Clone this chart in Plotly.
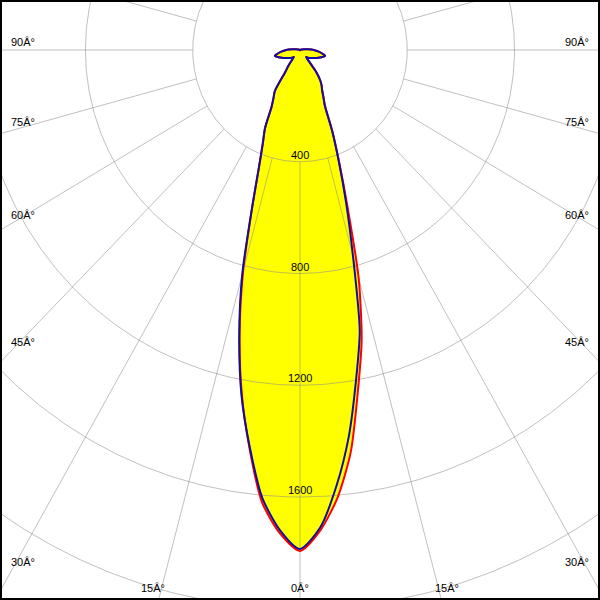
import numpy as np
import plotly.graph_objects as go

# measured gamma angles (deg, 0 = straight down)
gamma = [0, 2.5, 5, 7.5, 10, 12.5, 15, 17.5, 20, 22.5, 25, 27.5, 30, 32.5, 35, 37.5, 40,
         42.5, 45, 50, 55, 60, 65, 70, 75, 77.5, 80, 85, 90, 95, 100, 105, 110, 120,
         135, 150, 165, 180]

# luminous intensity (cd) per half-plane
c0 = [1793, 1722, 1608, 1451, 1242, 1062, 845, 590, 425, 315, 220, 190, 165, 150, 130, 100, 45,
      34, 38, 44, 50, 58, 68, 79, 92, 96, 88, 70, 52, 30, 15, 8, 4, 2, 1, 0, 0, 0]
c180 = [1793, 1731, 1625, 1440, 1250, 1040, 820, 595, 447, 362, 308, 230, 197, 175, 93, 71, 45,
        34, 38, 44, 50, 58, 68, 79, 92, 96, 88, 70, 52, 30, 15, 8, 4, 2, 1, 0, 0, 0]
c90 = [1786, 1712, 1565, 1395, 1202, 1029, 763, 570, 422, 313, 219, 188, 164, 150, 130, 100, 45,
       34, 38, 44, 50, 58, 68, 79, 92, 96, 88, 70, 52, 30, 15, 8, 4, 2, 1, 0, 0, 0]
c270 = [1786, 1720, 1610, 1434, 1256, 1047, 833, 598, 449, 363, 309, 230, 197, 175, 93, 71, 45,
        34, 38, 44, 50, 58, 68, 79, 92, 96, 88, 70, 52, 30, 15, 8, 4, 2, 1, 0, 0, 0]

ring_values = [400, 800, 1200, 1600, 2000, 2400]
ring_labels = [400, 800, 1200, 1600]
angle_ticks = [0, 15, 30, 45, 60, 75, 90]
grid_angles = list(range(-180, 181, 15))

W = H = 600
s = 111.75 / 400.0      # px per cd (vertical)
kx = 0.96               # horizontal squeeze of the diagram
cx_px, cy_px = 300, 50  # pole position in pixels

xr = [-(cx_px) / (kx * s), (W - cx_px) / (kx * s)]
yr = [-(H - cy_px) / s, cy_px / s]


def closed_curve(right, left):
    g = np.radians(np.array(gamma, float))
    r_r = np.array(right, float)
    r_l = np.array(left, float)
    x = np.concatenate([r_r * np.sin(g), -(r_l * np.sin(g))[::-1]])
    y = np.concatenate([-r_r * np.cos(g), (-r_l * np.cos(g))[::-1]])
    return x, y


fig = go.Figure()

xa, ya = closed_curve(c0, c180)
xb, yb = closed_curve(c90, c270)
SM = 0.7

for xx, yy in [(xa, ya), (xb, yb)]:
    fig.add_trace(go.Scatter(x=xx, y=yy, mode="lines", fill="toself",
                             fillcolor="#ffff00",
                             line=dict(width=0, color="#ffff00", shape="spline", smoothing=SM),
                             hoverinfo="skip", showlegend=False))

# grid: rings
gx, gy = [], []
t = np.radians(np.linspace(0, 360, 721))
for rv in ring_values:
    gx += list(rv * np.sin(t)) + [None]
    gy += list(-rv * np.cos(t)) + [None]
# grid: radial spokes from the first ring outward
for a in grid_angles:
    ar = np.radians(a)
    gx += [ring_values[0] * np.sin(ar), 4000 * np.sin(ar), None]
    gy += [-ring_values[0] * np.cos(ar), -4000 * np.cos(ar), None]
fig.add_trace(go.Scatter(x=gx, y=gy, mode="lines",
                         line=dict(color="rgba(140,140,140,0.55)", width=1),
                         hoverinfo="skip", showlegend=False))

# outlines
fig.add_trace(go.Scatter(x=xa, y=ya, mode="lines",
                         line=dict(color="#ff0000", width=2, shape="spline", smoothing=SM),
                         hoverinfo="skip", showlegend=False))
fig.add_trace(go.Scatter(x=xb, y=yb, mode="lines",
                         line=dict(color="#1010a0", width=2, shape="spline", smoothing=SM),
                         hoverinfo="skip", showlegend=False))

font = dict(family="Liberation Sans, Arial, sans-serif", size=11, color="black")
ann = []
for rv in ring_labels:
    ann.append(dict(x=0, y=-rv, xref="x", yref="y", text=str(rv), showarrow=False,
                    yshift=7, font=font, xanchor="center", yanchor="middle"))

for a in angle_ticks:
    txt = f"{a}Â°"
    if a == 0:
        ann.append(dict(x=cx_px / W, y=1 - 588 / H, xref="paper", yref="paper", text=txt,
                        showarrow=False, font=font, xanchor="center", yanchor="middle"))
        continue
    ta = np.tan(np.radians(a)) if a < 90 else np.inf
    if (H - cy_px) * ta < cx_px:
        off = (H - cy_px) * ta
        for xp in (cx_px - off, cx_px + off):
            ann.append(dict(x=xp / W, y=1 - 588 / H, xref="paper", yref="paper", text=txt,
                            showarrow=False, font=font, xanchor="center", yanchor="middle"))
    else:
        yp = cy_px + (cx_px / ta if np.isfinite(ta) else 0) - 8
        ann.append(dict(x=9 / W, y=1 - yp / H, xref="paper", yref="paper", text=txt,
                        showarrow=False, font=font, xanchor="left", yanchor="middle"))
        ann.append(dict(x=591 / W, y=1 - yp / H, xref="paper", yref="paper", text=txt,
                        showarrow=False, font=font, xanchor="right", yanchor="middle"))

fig.update_layout(
    width=W, height=H, autosize=False,
    margin=dict(l=0, r=0, t=0, b=0, pad=0),
    paper_bgcolor="white", plot_bgcolor="white",
    xaxis=dict(range=xr, visible=False, fixedrange=True),
    yaxis=dict(range=yr, visible=False, fixedrange=True),
    annotations=ann,
    shapes=[dict(type="rect", xref="paper", yref="paper", x0=0, y0=0, x1=1, y1=1,
                 line=dict(color="black", width=4), layer="above")],
    showlegend=False,
)

fig.write_html("out.html", config={"displayModeBar": False, "staticPlot": True},
               post_script="document.body.style.margin='0';document.body.style.overflow='hidden';")
